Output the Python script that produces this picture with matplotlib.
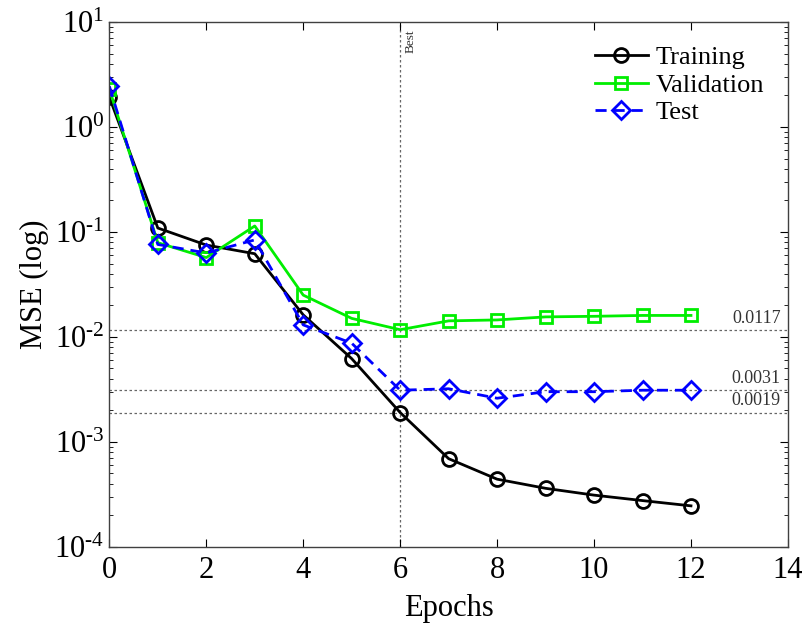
import numpy as np
import matplotlib
matplotlib.use("Agg")
import matplotlib.pyplot as plt
from matplotlib.ticker import FuncFormatter

plt.rcParams['font.family'] = ['Liberation Serif', 'DejaVu Serif']
plt.rcParams['mathtext.fontset'] = 'custom'
plt.rcParams['mathtext.rm'] = 'Liberation Serif'
plt.rcParams['mathtext.it'] = 'Liberation Serif:italic'
plt.rcParams['mathtext.bf'] = 'Liberation Serif:bold'

# data
epochs = [0, 1, 2, 3, 4, 5, 6, 7, 8, 9, 10, 11, 12]
train = [1.93, 0.109, 0.075, 0.062, 0.0162, 0.0062, 0.0019, 0.00069, 0.00044, 0.00036, 0.00031, 0.000275, 0.000245]
valid = [2.3, 0.079, 0.057, 0.114, 0.025, 0.015, 0.0117, 0.0142, 0.0145, 0.0155, 0.0157, 0.016, 0.016]
test = [2.45, 0.076, 0.063, 0.084, 0.013, 0.0087, 0.0031, 0.0032, 0.0026, 0.0030, 0.0030, 0.0031, 0.0031]
best_epoch = 6
ref_vals = [0.0117, 0.0031, 0.0019]
ref_labels = ["0.0117", "0.0031", "0.0019"]

fig = plt.figure(figsize=(8.04, 6.32), dpi=100)
ax = fig.add_axes([0.136, 0.135, 0.844, 0.83])

ax.plot(epochs, train, '-o', color='black', lw=2, ms=10, mfc='none', mew=2, label='Training')
ax.plot(epochs, valid, '-s', color='#00ee00', lw=2, ms=9, mfc='none', mew=2, label='Validation')
ax.plot(epochs, test, '--D', color='blue', lw=2, ms=9, mfc='none', mew=2, label='Test',
        dashes=(4, 2.5))

# horizontal reference lines with value labels
for v, s in zip(ref_vals, ref_labels):
    ax.axhline(v, color='0.4', ls=(0, (2, 2)), lw=0.9, zorder=0)
    ax.text(13.85, v * 1.07, s, ha='right', va='bottom', fontsize=13, color='0.2')

ax.axvline(best_epoch, color='0.4', ls=(0, (2, 2)), lw=0.9, zorder=0)
ax.text(best_epoch + 0.1, 8.5, "Best", rotation=90, ha='left', va='top', fontsize=9.5, color='0.2')

ax.set_yscale('log')
ax.set_xlim(0, 14)
ax.set_ylim(1e-4, 10)
ax.set_xticks(range(0, 15, 2))
ax.yaxis.set_major_formatter(FuncFormatter(
    lambda v, p: r'$10^{\text{%d}}$' % round(np.log10(v))))
ax.tick_params(which='both', direction='in', top=True, right=True, labelsize=22)
ax.tick_params(axis='x', pad=7)
ax.tick_params(which='major', length=6)
ax.tick_params(which='minor', length=3)
for sp in ax.spines.values():
    sp.set_linewidth(1.0)
    sp.set_color('0.25')

ax.set_xlabel("Epochs", fontsize=22, labelpad=6)
ax.set_ylabel("MSE (log)", fontsize=22, labelpad=4)

ax.legend(loc='upper right', frameon=False, fontsize=19, handlelength=2.0,
          borderaxespad=0.5, labelspacing=0.15, handletextpad=0.3)

fig.savefig("out.png", dpi=100)
